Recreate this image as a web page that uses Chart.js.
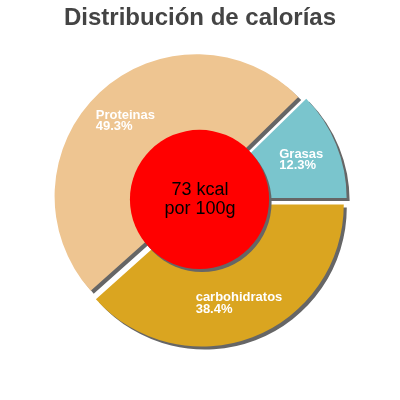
<!DOCTYPE html>
<html>
<head>
<meta charset="utf-8">
<script src="https://cdn.jsdelivr.net/npm/chart.js@4/dist/chart.umd.min.js"></script>
<style>
html,body{margin:0;padding:0;background:#fff;}
#wrap{width:400px;height:400px;}
</style>
</head>
<body>
<div id="wrap"><canvas id="c" width="400" height="400"></canvas></div>
<script>
// ---- data ----
const categories = ['Grasas', 'carbohidratos', 'Proteinas'];
const percentages = [12.3, 38.4, 49.3];
const titleText = 'Distribución de calorías';
const centerLines = ['73 kcal', 'por 100g'];

// ---- styles ----
const sliceColors = ['#7AC5CD', '#DAA520', '#EEC591'];
const EXPLODE = 5;
const SHADOW = '#666666';
const FONT = '"Liberation Sans", Arial, sans-serif';

const piePlugin = {
  id: 'piePlugin',
  beforeDatasetDraw(chart, args) {
    const ctx = chart.ctx;
    const dpr = chart.currentDevicePixelRatio || 1;
    args.meta.data.forEach(arc => {
      const mid = (arc.startAngle + arc.endAngle) / 2;
      ctx.save();
      ctx.translate(Math.cos(mid) * EXPLODE, Math.sin(mid) * EXPLODE);
      ctx.shadowColor = SHADOW;
      ctx.shadowBlur = 0;
      ctx.shadowOffsetX = 3 * dpr;
      ctx.shadowOffsetY = 3 * dpr;
      arc.draw(ctx);
      ctx.restore();
    });
    return false;
  },
  afterDatasetsDraw(chart) {
    const ctx = chart.ctx;
    const dpr = chart.currentDevicePixelRatio || 1;
    const meta = chart.getDatasetMeta(0);
    const a0 = meta.data[0];
    const cx = a0.x, cy = a0.y, R = a0.outerRadius;

    // slice labels
    ctx.save();
    ctx.font = 'bold 13px ' + FONT;
    ctx.fillStyle = '#ffffff';
    ctx.textAlign = 'left';
    ctx.textBaseline = 'alphabetic';
    meta.data.forEach((arc, i) => {
      const mid = (arc.startAngle + arc.endAngle) / 2;
      const px = cx + Math.cos(mid) * R * 0.77;
      const py = cy + Math.sin(mid) * R * 0.77;
      const l1 = categories[i];
      const l2 = percentages[i].toFixed(1) + '%';
      const w = Math.max(ctx.measureText(l1).width, ctx.measureText(l2).width);
      const lx = px - w / 2;
      ctx.fillText(l1, lx, py - 1);
      ctx.fillText(l2, lx, py + 10.5);
    });
    ctx.restore();

    // center circle
    ctx.save();
    ctx.shadowColor = SHADOW;
    ctx.shadowBlur = 0;
    ctx.shadowOffsetX = 2.5 * dpr;
    ctx.shadowOffsetY = 3 * dpr;
    ctx.beginPath();
    ctx.arc(cx - 0.5, cy - 0.5, R * 0.49, 0, Math.PI * 2);
    ctx.fillStyle = '#FF0000';
    ctx.fill();
    ctx.restore();

    ctx.save();
    ctx.font = '18px ' + FONT;
    ctx.fillStyle = '#000000';
    ctx.textAlign = 'center';
    ctx.textBaseline = 'alphabetic';
    ctx.fillText(centerLines[0], cx, cy - 5);
    ctx.fillText(centerLines[1], cx, cy + 14);
    ctx.restore();
  }
};

new Chart(document.getElementById('c'), {
  type: 'pie',
  data: {
    labels: categories,
    datasets: [{
      data: percentages,
      backgroundColor: sliceColors,
      borderWidth: 0,
      radius: 142
    }]
  },
  options: {
    responsive: false,
    animation: false,
    rotation: 45.7,
    layout: { padding: { top: 0, bottom: 33, left: 0, right: 0 } },
    plugins: {
      legend: { display: false },
      tooltip: { enabled: false },
      title: {
        display: true,
        text: titleText,
        color: '#444444',
        font: { family: FONT, size: 24, weight: 'bold', lineHeight: 1.2 },
        padding: { top: 4, bottom: 0 }
      }
    }
  },
  plugins: [piePlugin]
});
</script>
</body>
</html>
